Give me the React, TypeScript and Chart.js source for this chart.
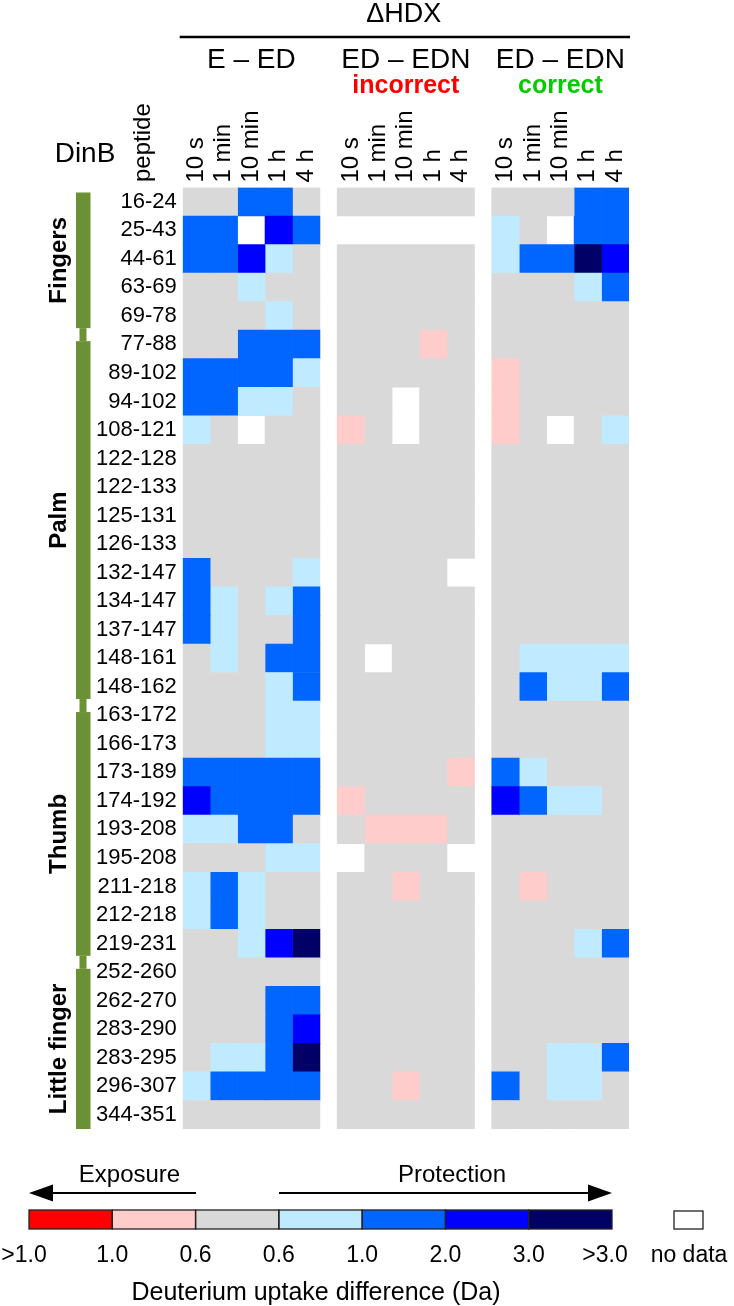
import React, { useEffect, useRef } from 'react';
import { Chart, registerables } from 'chart.js';

Chart.register(...registerables);

// ---------- data ----------
const peptides = [
  '16-24', '25-43', '44-61', '63-69', '69-78', '77-88', '89-102', '94-102', '108-121',
  '122-128', '122-133', '125-131', '126-133', '132-147', '134-147', '137-147', '148-161',
  '148-162', '163-172', '166-173', '173-189', '174-192', '193-208', '195-208', '211-218',
  '212-218', '219-231', '252-260', '262-270', '283-290', '283-295', '296-307', '344-351',
];
const timePoints = ['10 s', '1 min', '10 min', '1 h', '4 h'];
const comparisons = ['E – ED', 'ED – EDN', 'ED – EDN'];
const comparisonNotes = ['', 'incorrect', 'correct'];
const noteColors = ['#000000', '#ff0000', '#00cc00'];

const domainNames = ['Fingers', 'Palm', 'Thumb', 'Little finger'];
const domainFirstRow = [0, 5, 18, 27];
const domainLastRow = [4, 17, 26, 32];

// Deuterium uptake difference (Da); positive = protection, negative = exposure, null = no data
const eMinusEd: (number | null)[][] = [
  [0, 0, 1.5, 1.5, 0],
  [1.5, 1.5, null, 2.5, 1.5],
  [1.5, 1.5, 2.5, 0.8, 0],
  [0, 0, 0.8, 0, 0],
  [0, 0, 0, 0.8, 0],
  [0, 0, 1.5, 1.5, 1.5],
  [1.5, 1.5, 1.5, 1.5, 0.8],
  [1.5, 1.5, 0.8, 0.8, 0],
  [0.8, 0, null, 0, 0],
  [0, 0, 0, 0, 0],
  [0, 0, 0, 0, 0],
  [0, 0, 0, 0, 0],
  [0, 0, 0, 0, 0],
  [1.5, 0, 0, 0, 0.8],
  [1.5, 0.8, 0, 0.8, 1.5],
  [1.5, 0.8, 0, 0, 1.5],
  [0, 0.8, 0, 1.5, 1.5],
  [0, 0, 0, 0.8, 1.5],
  [0, 0, 0, 0.8, 0.8],
  [0, 0, 0, 0.8, 0.8],
  [1.5, 1.5, 1.5, 1.5, 1.5],
  [2.5, 1.5, 1.5, 1.5, 1.5],
  [0.8, 0.8, 1.5, 1.5, 0],
  [0, 0, 0, 0.8, 0.8],
  [0.8, 1.5, 0.8, 0, 0],
  [0.8, 1.5, 0.8, 0, 0],
  [0, 0, 0.8, 2.5, 3.5],
  [0, 0, 0, 0, 0],
  [0, 0, 0, 1.5, 1.5],
  [0, 0, 0, 1.5, 2.5],
  [0, 0.8, 0.8, 1.5, 3.5],
  [0.8, 1.5, 1.5, 1.5, 1.5],
  [0, 0, 0, 0, 0],
];

const edMinusEdnIncorrect: (number | null)[][] = [
  [0, 0, 0, 0, 0],
  [null, null, null, null, null],
  [0, 0, 0, 0, 0],
  [0, 0, 0, 0, 0],
  [0, 0, 0, 0, 0],
  [0, 0, 0, -0.8, 0],
  [0, 0, 0, 0, 0],
  [0, 0, null, 0, 0],
  [-0.8, 0, null, 0, 0],
  [0, 0, 0, 0, 0],
  [0, 0, 0, 0, 0],
  [0, 0, 0, 0, 0],
  [0, 0, 0, 0, 0],
  [0, 0, 0, 0, null],
  [0, 0, 0, 0, 0],
  [0, 0, 0, 0, 0],
  [0, null, 0, 0, 0],
  [0, 0, 0, 0, 0],
  [0, 0, 0, 0, 0],
  [0, 0, 0, 0, 0],
  [0, 0, 0, 0, -0.8],
  [-0.8, 0, 0, 0, 0],
  [0, -0.8, -0.8, -0.8, 0],
  [null, 0, 0, 0, null],
  [0, 0, -0.8, 0, 0],
  [0, 0, 0, 0, 0],
  [0, 0, 0, 0, 0],
  [0, 0, 0, 0, 0],
  [0, 0, 0, 0, 0],
  [0, 0, 0, 0, 0],
  [0, 0, 0, 0, 0],
  [0, 0, -0.8, 0, 0],
  [0, 0, 0, 0, 0],
];

const edMinusEdnCorrect: (number | null)[][] = [
  [0, 0, 0, 1.5, 1.5],
  [0.8, 0, null, 1.5, 1.5],
  [0.8, 1.5, 1.5, 3.5, 2.5],
  [0, 0, 0, 0.8, 1.5],
  [0, 0, 0, 0, 0],
  [0, 0, 0, 0, 0],
  [-0.8, 0, 0, 0, 0],
  [-0.8, 0, 0, 0, 0],
  [-0.8, 0, null, 0, 0.8],
  [0, 0, 0, 0, 0],
  [0, 0, 0, 0, 0],
  [0, 0, 0, 0, 0],
  [0, 0, 0, 0, 0],
  [0, 0, 0, 0, 0],
  [0, 0, 0, 0, 0],
  [0, 0, 0, 0, 0],
  [0, 0.8, 0.8, 0.8, 0.8],
  [0, 1.5, 0.8, 0.8, 1.5],
  [0, 0, 0, 0, 0],
  [0, 0, 0, 0, 0],
  [1.5, 0.8, 0, 0, 0],
  [2.5, 1.5, 0.8, 0.8, 0],
  [0, 0, 0, 0, 0],
  [0, 0, 0, 0, 0],
  [0, -0.8, 0, 0, 0],
  [0, 0, 0, 0, 0],
  [0, 0, 0, 0.8, 1.5],
  [0, 0, 0, 0, 0],
  [0, 0, 0, 0, 0],
  [0, 0, 0, 0, 0],
  [0, 0, 0.8, 0.8, 1.5],
  [1.5, 0, 0.8, 0.8, 0],
  [0, 0, 0, 0, 0],
];

const groupValues = [eMinusEd, edMinusEdnIncorrect, edMinusEdnCorrect];

// colour scale
const legendLabels = ['>1.0', '1.0', '0.6', '0.6', '1.0', '2.0', '3.0', '>3.0'];
const legendColors = ['#ff0000', '#ffcccc', '#d9d9d9', '#c0eaff', '#0066ff', '#0000ff', '#000066'];
const binUpperLimits = [-1.0, -0.6, 0.6, 1.0, 2.0, 3.0, Infinity];

const colorFor = (v: number | null) => {
  if (v == null) return 'rgba(255,255,255,0)';
  for (let i = 0; i < binUpperLimits.length; i++) {
    if (v < binUpperLimits[i]) return legendColors[i];
  }
  return legendColors[legendColors.length - 1];
};

const GAP = 0.63;
const groupStart = (g: number) => g * (timePoints.length + GAP);
const xMax = groupStart(comparisons.length - 1) + timePoints.length;
const colCenters: number[] = [];
comparisons.forEach((_, g) => timePoints.forEach((__, c) => colCenters.push(groupStart(g) + c + 0.5)));

const FONT = "'Liberation Sans', Arial, Helvetica, sans-serif";
const TICK_FONT_SIZE = 24;

function drawText(
  ctx: CanvasRenderingContext2D, s: string, x: number, y: number, font: string, color = '#000',
  align: CanvasTextAlign = 'center', baseline: CanvasTextBaseline = 'middle', rot = 0,
) {
  ctx.save();
  ctx.translate(x, y);
  if (rot) ctx.rotate(rot);
  ctx.font = font;
  ctx.fillStyle = color;
  ctx.textAlign = align;
  ctx.textBaseline = baseline;
  ctx.fillText(s, 0, 0);
  ctx.restore();
}

const decorPlugin = {
  id: 'decor',
  afterDraw(chart: any) {
    const ctx: CanvasRenderingContext2D = chart.ctx;
    const xs = chart.scales.x;
    const ys = chart.scales.y;
    const rowH = (ys.bottom - ys.top) / peptides.length;
    const rowTop = (r: number) => ys.top + r * rowH;

    ctx.save();
    // header
    const heatLeft = xs.getPixelForValue(0);
    const heatRight = xs.getPixelForValue(xMax);
    drawText(ctx, 'ΔHDX', (heatLeft + heatRight) / 2 - 2, 15, `27px ${FONT}`);
    ctx.strokeStyle = '#000';
    ctx.lineWidth = 2.5;
    ctx.beginPath();
    ctx.moveTo(heatLeft - 3, 37);
    ctx.lineTo(heatRight + 1, 37);
    ctx.stroke();

    comparisons.forEach((name, g) => {
      const cx = (xs.getPixelForValue(groupStart(g)) + xs.getPixelForValue(groupStart(g) + timePoints.length)) / 2;
      drawText(ctx, name, cx, 60, `28px ${FONT}`);
      if (comparisonNotes[g]) drawText(ctx, comparisonNotes[g], cx, 86, `bold 25px ${FONT}`, noteColors[g]);
    });

    drawText(ctx, 'DinB', 85, 154, `28px ${FONT}`);
    drawText(ctx, 'peptide', 143, 182, `24px ${FONT}`, '#000', 'left', 'middle', -Math.PI / 2);

    // domain bars
    const green = '#6b9135';
    const bx0 = 76, bx1 = 90.5, nx0 = 79.5, nx1 = 86.5;
    domainNames.forEach((name, d) => {
      const top = d === 0 ? rowTop(0) + 5 : rowTop(domainFirstRow[d]) + 11;
      const bottom = d === domainNames.length - 1 ? rowTop(domainLastRow[d] + 1) : rowTop(domainLastRow[d] + 1) - 2;
      ctx.fillStyle = green;
      ctx.fillRect(bx0, top, bx1 - bx0, bottom - top);
      if (d < domainNames.length - 1) {
        const b = rowTop(domainLastRow[d] + 1);
        ctx.fillRect(nx0, b - 2, nx1 - nx0, 13);
      }
      const cy = (top + bottom) / 2;
      drawText(ctx, name, 59, cy, `bold 24px ${FONT}`, '#000', 'center', 'middle', -Math.PI / 2);
    });

    // legend
    const lx0 = 29, lx1 = 612, ly0 = 1210, ly1 = 1229;
    const segW = (lx1 - lx0) / legendColors.length;
    legendColors.forEach((c, i) => {
      ctx.fillStyle = c;
      ctx.fillRect(lx0 + i * segW, ly0, segW, ly1 - ly0);
    });
    ctx.strokeStyle = '#222';
    ctx.lineWidth = 1.3;
    legendColors.forEach((_, i) => {
      ctx.strokeRect(lx0 + i * segW, ly0, segW, ly1 - ly0);
    });
    ctx.strokeRect(674, ly0 + 1, 29, ly1 - ly0 - 1);

    legendLabels.forEach((l, i) => {
      let x = lx0 + i * segW;
      if (i === 0) x -= 5;
      if (i === legendLabels.length - 1) x -= 7;
      drawText(ctx, l, x, 1256, `23px ${FONT}`);
    });
    drawText(ctx, 'no data', 689, 1256, `23px ${FONT}`);
    drawText(ctx, 'Deuterium uptake difference (Da)', 316, 1293, `25px ${FONT}`);

    drawText(ctx, 'Exposure', 129.5, 1175, `24px ${FONT}`);
    drawText(ctx, 'Protection', 452, 1175, `24px ${FONT}`);
    const ay = 1193;
    ctx.strokeStyle = '#000';
    ctx.fillStyle = '#000';
    ctx.lineWidth = 1.8;
    ctx.beginPath();
    ctx.moveTo(48, ay); ctx.lineTo(196, ay);
    ctx.moveTo(279, ay); ctx.lineTo(594, ay);
    ctx.stroke();
    ctx.beginPath();
    ctx.moveTo(29, ay); ctx.lineTo(53, ay - 8.5); ctx.lineTo(53, ay + 8.5); ctx.closePath();
    ctx.fill();
    ctx.beginPath();
    ctx.moveTo(612, ay); ctx.lineTo(588, ay - 8.5); ctx.lineTo(588, ay + 8.5); ctx.closePath();
    ctx.fill();
    ctx.restore();
  },
};

export default function App() {
  const ref = useRef<HTMLCanvasElement>(null);

  useEffect(() => {
    if (!ref.current) return;
    Chart.defaults.font.family = FONT;

    const datasets: any[] = [];
    groupValues.forEach((values, g) => {
      timePoints.forEach((t, c) => {
        const x0 = groupStart(g) + c;
        datasets.push({
          label: `${comparisons[g]} ${comparisonNotes[g]} ${t}`,
          data: values.map((row) => (row[c] == null ? null : [x0, x0 + 1])),
          backgroundColor: values.map((row) => colorFor(row[c])),
          borderWidth: 0,
          grouped: false,
          barPercentage: 1,
          categoryPercentage: 1,
        });
      });
    });

    const chart = new Chart(ref.current, {
      type: 'bar',
      data: { labels: peptides, datasets },
      options: {
        indexAxis: 'y',
        responsive: false,
        animation: false,
        devicePixelRatio: 1,
        layout: { padding: { left: 0, top: 0, right: 105, bottom: 177 } },
        plugins: { legend: { display: false }, tooltip: { enabled: false }, title: { display: false } },
        scales: {
          x: {
            type: 'linear',
            position: 'top',
            min: 0,
            max: xMax,
            grid: { display: false, drawTicks: false },
            border: { display: false },
            afterBuildTicks: (s: any) => {
              s.ticks = colCenters.map((v) => ({ value: v }));
            },
            afterFit: (s: any) => {
              s.height = 187.5;
            },
            ticks: {
              autoSkip: false,
              minRotation: 90,
              maxRotation: 90,
              padding: 5,
              // rotated labels on a top axis are shifted left by one line height; move them back over the column
              labelOffset: TICK_FONT_SIZE * 1.2,
              color: '#000',
              font: { size: TICK_FONT_SIZE, family: FONT },
              callback: (_v: any, i: number) => timePoints[i % timePoints.length],
            },
          },
          y: {
            type: 'category',
            grid: { display: false, drawTicks: false },
            border: { display: false },
            afterFit: (s: any) => {
              s.width = 182.7;
            },
            ticks: {
              autoSkip: false,
              padding: 6,
              color: '#000',
              font: { size: 22, family: FONT },
            },
          },
        },
      } as any,
      plugins: [decorPlugin],
    });
    return () => chart.destroy();
  }, []);

  return (
    <div style={{ position: 'absolute', left: 0, top: 0, width: 734, height: 1306, background: '#fff' }}>
      <canvas ref={ref} width={734} height={1306} style={{ display: 'block', width: 734, height: 1306 }} />
    </div>
  );
}
